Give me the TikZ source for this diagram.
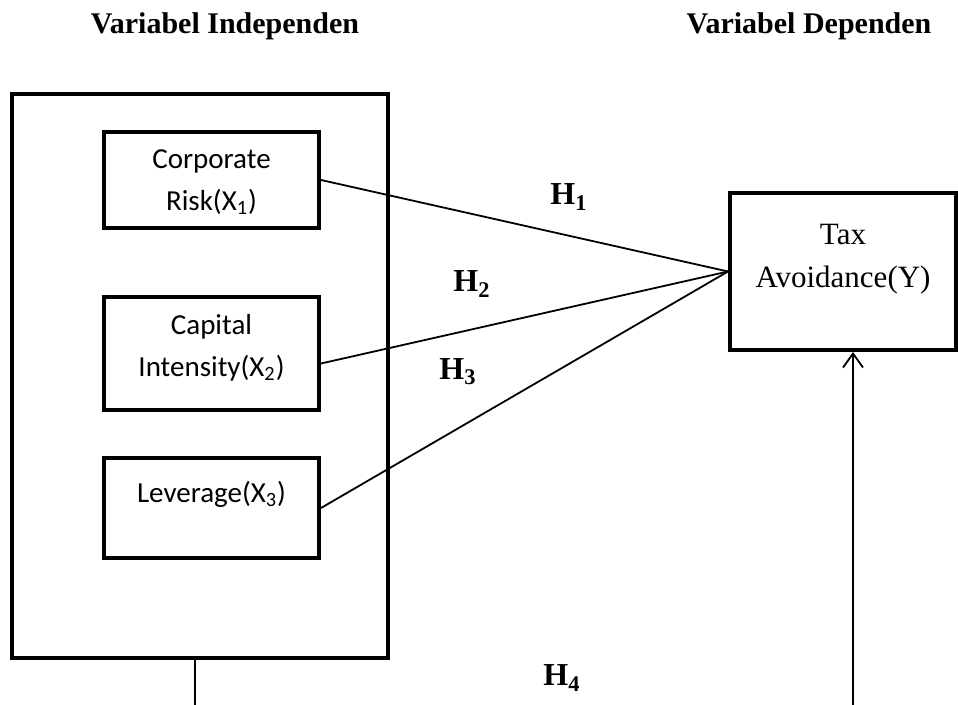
\documentclass[tikz,border=0pt]{standalone}
\usepackage{fontspec}
\setmainfont{Liberation Serif}
\newfontfamily\calibri{Carlito}
\usetikzlibrary{arrows.meta}

\begin{document}
\begin{tikzpicture}[x=0.5pt, y=-0.5pt,
        varbox/.style={draw, line width=2pt, minimum width=107.5pt},
        vartext/.style={font=\calibri\fontsize{14.5}{21}\selectfont, align=center, inner sep=0pt, anchor=north},
        hlabel/.style={font=\bfseries\fontsize{15}{18}\selectfont, inner sep=0pt},
        link/.style={line width=0.9pt}]
    % Fix the page to the size of the reference
    \useasboundingbox (0,0) rectangle (958,705);

    % Column titles
    \node[hlabel] (titleindep) at (225,26) {Variabel Independen};
    \node[hlabel] (titledep) at (809,26) {Variabel Dependen};

    % Outer frame around the independent variables
    \node[draw, line width=2pt, minimum width=188pt, minimum height=282pt] (indep) at (200,376) {};

    % Independent variables
    \node[varbox, minimum height=48pt] (corp) at (211.5,180) {};
    \node[varbox, minimum height=56.5pt] (cap) at (211.5,353.5) {};
    \node[varbox, minimum height=50pt] (lev) at (211.5,508) {};
    \node[vartext] (corptext) at ([yshift=-9.5pt]corp.north) {Corporate\\Risk(X\textsubscript{1})};
    \node[vartext] (captext) at ([yshift=-9.5pt]cap.north) {Capital\\Intensity(X\textsubscript{2})};
    \node[vartext] (levtext) at ([yshift=-12.5pt]lev.north) {Leverage(X\textsubscript{3})};

    % Dependent variable
    \node[varbox, minimum width=113pt, minimum height=78.5pt] (tax) at (843,271.5) {};
    \node[font=\fontsize{15.5}{21.5}\selectfont, align=center, inner sep=0pt, anchor=north]
        (taxtext) at ([yshift=-16.5pt]tax.north) {Tax\\Avoidance(Y)};

    % Hypotheses H1 - H3
    \draw[link] (corp.east) -- (tax.west);
    \draw[link] ([yshift=-5pt]cap.east) -- (tax.west);
    \draw[link] (lev.east) -- (tax.west);
    \node[hlabel, font=\bfseries\fontsize{16}{18}\selectfont] (h1) at (569,197) {H\textsubscript{1}};
    \node[hlabel, font=\bfseries\fontsize{16}{18}\selectfont] (h2) at (472,284) {H\textsubscript{2}};
    \node[hlabel, font=\bfseries\fontsize{16}{18}\selectfont] (h3) at (458,372) {H\textsubscript{3}};

    % Hypothesis H4 (simultaneous)
    \coordinate (linefoot) at (195,705);
    \coordinate (arrowfoot) at (853,705);
    \draw[line width=0.6pt] (linefoot) -- (linefoot |- indep.south);
    \draw[link, -{Straight Barb[length=7pt,width=10pt]}] (arrowfoot) -- (arrowfoot |- tax.south);
    \node[hlabel, font=\bfseries\fontsize{16}{18}\selectfont] (h4) at (562,678) {H\textsubscript{4}};
\end{tikzpicture}
\end{document}
